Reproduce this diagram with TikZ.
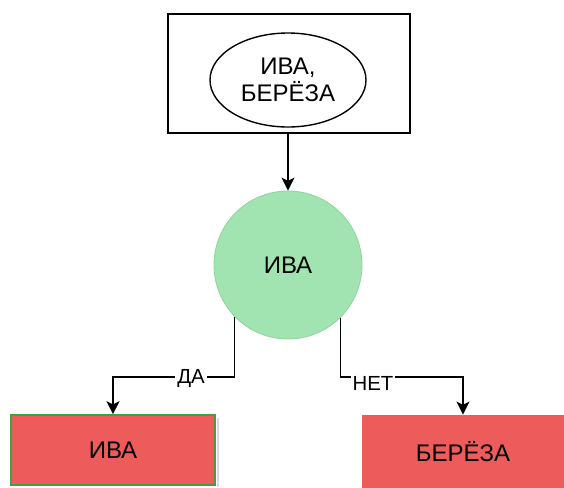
\documentclass[tikz,border=0pt]{standalone}
\usepackage{fontspec}
\setmainfont{Liberation Sans}
\usepackage{tikz}
\usetikzlibrary{shapes,arrows.meta}
\definecolor{leafgreen}{RGB}{162,228,177}
\definecolor{leafedge}{RGB}{140,212,156}
\definecolor{barkred}{RGB}{238,91,91}
\definecolor{edgegreen}{RGB}{64,160,64}
\tikzstyle{arrow} = [draw, -{Stealth[length=6.5pt,width=6.5pt,inset=1.6pt]}, line width=0.8pt]
\tikzstyle{answer} = [fill=white, inner sep=1pt, font=\fontsize{10.2}{12}\selectfont]
\tikzstyle{leaf} = [draw=barkred, fill=barkred, minimum height=35pt, font=\fontsize{12}{14}\selectfont]

\begin{document}
\begin{tikzpicture}[x=0.5pt, y=-0.5pt, auto]
\useasboundingbox (0,0) rectangle (564,488);
\clip (0,0) rectangle (564,488);

% top box with both classes
\node [draw, line width=0.8pt, minimum width=121pt, minimum height=59.5pt] at (289, 73.5) (start) {};
\node [draw, ellipse, line width=0.7pt, minimum width=78pt, minimum height=47pt, align=center,
  font=\fontsize{12}{13.5}\selectfont] at (288, 80) (classes) {ИВА,\\БЕРЁЗА};

% decision
\node [circle, draw=leafedge, fill=leafgreen, minimum size=74pt,
  font=\fontsize{12}{14}\selectfont] at (288, 265) (test) {ИВА};

\path [arrow] (start.south -| classes) to (test.north);

% outcomes
\fill [black!15] (217,418) rectangle (219,487);
\node [leaf, draw=edgegreen, line width=0.8pt, minimum width=102pt] at (113, 450) (yes) {ИВА};
\node [leaf, minimum width=101pt, minimum height=37pt] at (463, 452) (no) {БЕРЁЗА};

\path [arrow] (test.224) |- (150,377) -| (yes.north);
\path [arrow] (test.315) |- (400,377) -| (no.north);

\node [answer] at (191, 379) (da) {ДА};
\node [answer] at (373, 383) (net) {НЕТ};
\end{tikzpicture}
\end{document}
